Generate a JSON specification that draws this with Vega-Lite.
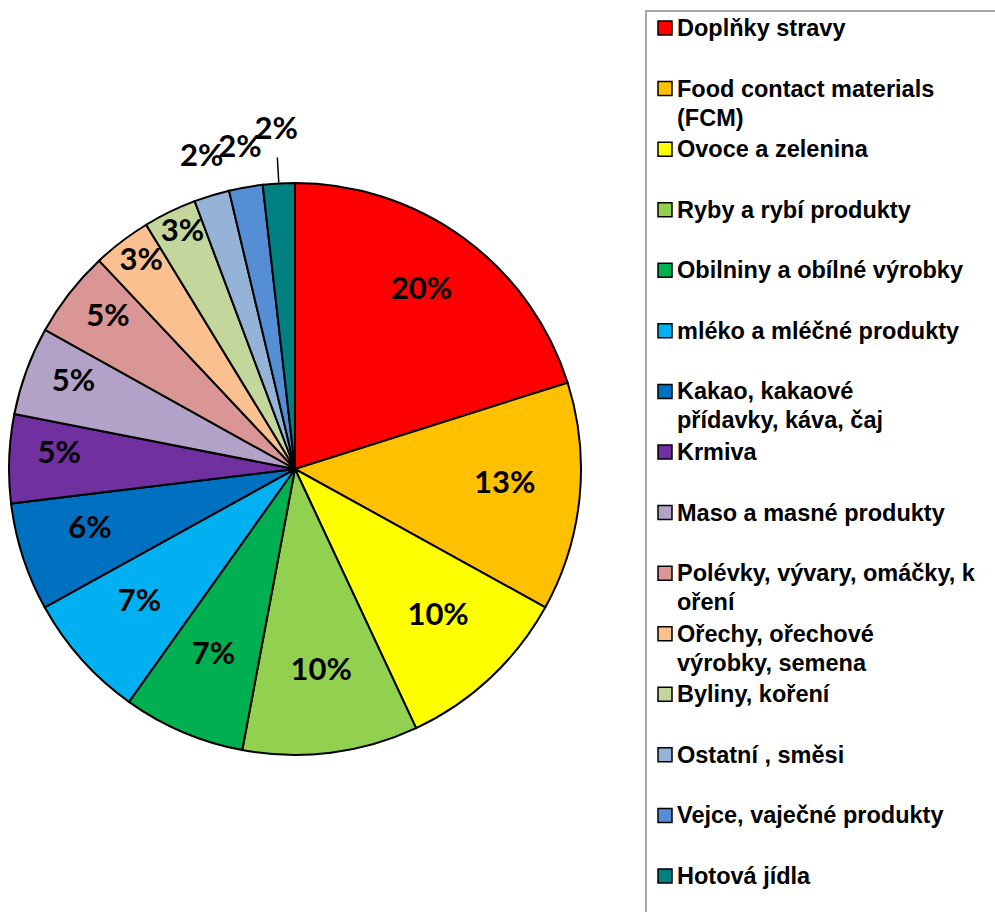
{
  "$schema": "https://vega.github.io/schema/vega-lite/v6.json",
  "padding": {"top": 10, "left": 0, "right": 0, "bottom": 0},
  "background": "white",
  "config": {"view": {"stroke": null}},
  "datasets": {
    "cats": [
      {"i": 1, "name": "Doplňky stravy", "pct": 0.201},
      {"i": 2, "name": "Food contact materials|(FCM)", "pct": 0.129},
      {"i": 3, "name": "Ovoce a zelenina", "pct": 0.100},
      {"i": 4, "name": "Ryby a rybí produkty", "pct": 0.099},
      {"i": 5, "name": "Obilniny a obílné výrobky", "pct": 0.069},
      {"i": 6, "name": "mléko a mléčné produkty", "pct": 0.071},
      {"i": 7, "name": "Kakao, kakaové|přídavky, káva, čaj", "pct": 0.061},
      {"i": 8, "name": "Krmiva", "pct": 0.050},
      {"i": 9, "name": "Maso a masné produkty", "pct": 0.050},
      {"i": 10, "name": "Polévky, vývary, omáčky, k|oření", "pct": 0.049},
      {"i": 11, "name": "Ořechy, ořechové|výrobky, semena", "pct": 0.033},
      {"i": 12, "name": "Byliny, koření", "pct": 0.030},
      {"i": 13, "name": "Ostatní , směsi", "pct": 0.020},
      {"i": 14, "name": "Vejce, vaječné produkty", "pct": 0.019},
      {"i": 15, "name": "Hotová jídla", "pct": 0.018}
    ]
  },
  "hconcat": [
    {
      "width": 590,
      "height": 916,
      "data": {"name": "cats"},
      "encoding": {
        "theta": {"field": "pct", "type": "quantitative", "stack": true},
        "order": {"field": "i", "type": "quantitative"}
      },
      "layer": [
        {
          "mark": {"type": "arc", "outerRadius": 286, "stroke": "black", "strokeWidth": 2},
          "encoding": {
            "color": {
              "field": "name",
              "type": "nominal",
              "legend": null,
              "scale": {
                "domain": [
                  "Doplňky stravy", "Food contact materials|(FCM)", "Ovoce a zelenina",
                  "Ryby a rybí produkty", "Obilniny a obílné výrobky", "mléko a mléčné produkty",
                  "Kakao, kakaové|přídavky, káva, čaj", "Krmiva", "Maso a masné produkty",
                  "Polévky, vývary, omáčky, k|oření", "Ořechy, ořechové|výrobky, semena",
                  "Byliny, koření", "Ostatní , směsi", "Vejce, vaječné produkty", "Hotová jídla"
                ],
                "range": [
                  "#FF0000", "#FFC000", "#FFFF00", "#92D050", "#00B050", "#00B0F0",
                  "#0070C0", "#7030A0", "#B3A2C7", "#D99694", "#FAC090", "#C3D69B",
                  "#95B3D7", "#558ED5", "#008080"
                ]
              }
            }
          }
        },
        {
          "mark": {"type": "text", "font": "Lato", "fontWeight": "bold", "fontSize": 31, "color": "black", "dy": -6},
          "encoding": {
            "text": {"field": "pct", "type": "quantitative", "format": ".0%"},
            "radius": {
              "field": "pct",
              "type": "quantitative",
              "scale": {
                "type": "linear",
                "zero": false,
                "clamp": true,
                "domain": [0.018, 0.019, 0.025, 0.03, 0.05, 0.065, 0.2],
                "range": [334, 320, 320, 257, 236, 208, 214]
              }
            }
          }
        },
        {
          "transform": [
            {"window": [{"op": "sum", "field": "pct", "as": "cum"}], "sort": [{"field": "i", "order": "ascending"}]},
            {"filter": "datum.i == 15"},
            {"calculate": "datum.cum - datum.pct / 2", "as": "mid"}
          ],
          "mark": {"type": "arc", "innerRadius": 287, "outerRadius": 312, "stroke": "black", "strokeWidth": 1.5, "fill": null},
          "encoding": {
            "theta": {"field": "mid", "type": "quantitative", "stack": null},
            "theta2": {"field": "mid"}
          }
        }
      ]
    },
    {
      "width": 360,
      "height": 920,
      "view": {"stroke": "#a6a6a6", "strokeWidth": 2},
      "data": {"name": "cats"},
      "encoding": {
        "y": {
          "field": "name",
          "type": "nominal",
          "sort": {"field": "i"},
          "axis": null,
          "scale": {"type": "point", "padding": 0, "range": [17, 865]}
        }
      },
      "layer": [
        {
          "mark": {"type": "point", "shape": "square", "filled": true, "size": 196, "stroke": "black", "strokeWidth": 1.5, "opacity": 1, "x": 19},
          "encoding": {
            "color": {"field": "name", "type": "nominal", "legend": null}
          }
        },
        {
          "mark": {
            "type": "text", "x": 31, "align": "left", "baseline": "alphabetic", "dy": 8,
            "lineBreak": "|", "lineHeight": 29,
            "font": "Liberation Sans", "fontWeight": "bold", "fontSize": 23.5, "color": "black"
          },
          "encoding": {
            "text": {"field": "name", "type": "nominal"}
          }
        }
      ]
    }
  ],
  "spacing": 55,
  "resolve": {"scale": {"color": "shared"}}
}
